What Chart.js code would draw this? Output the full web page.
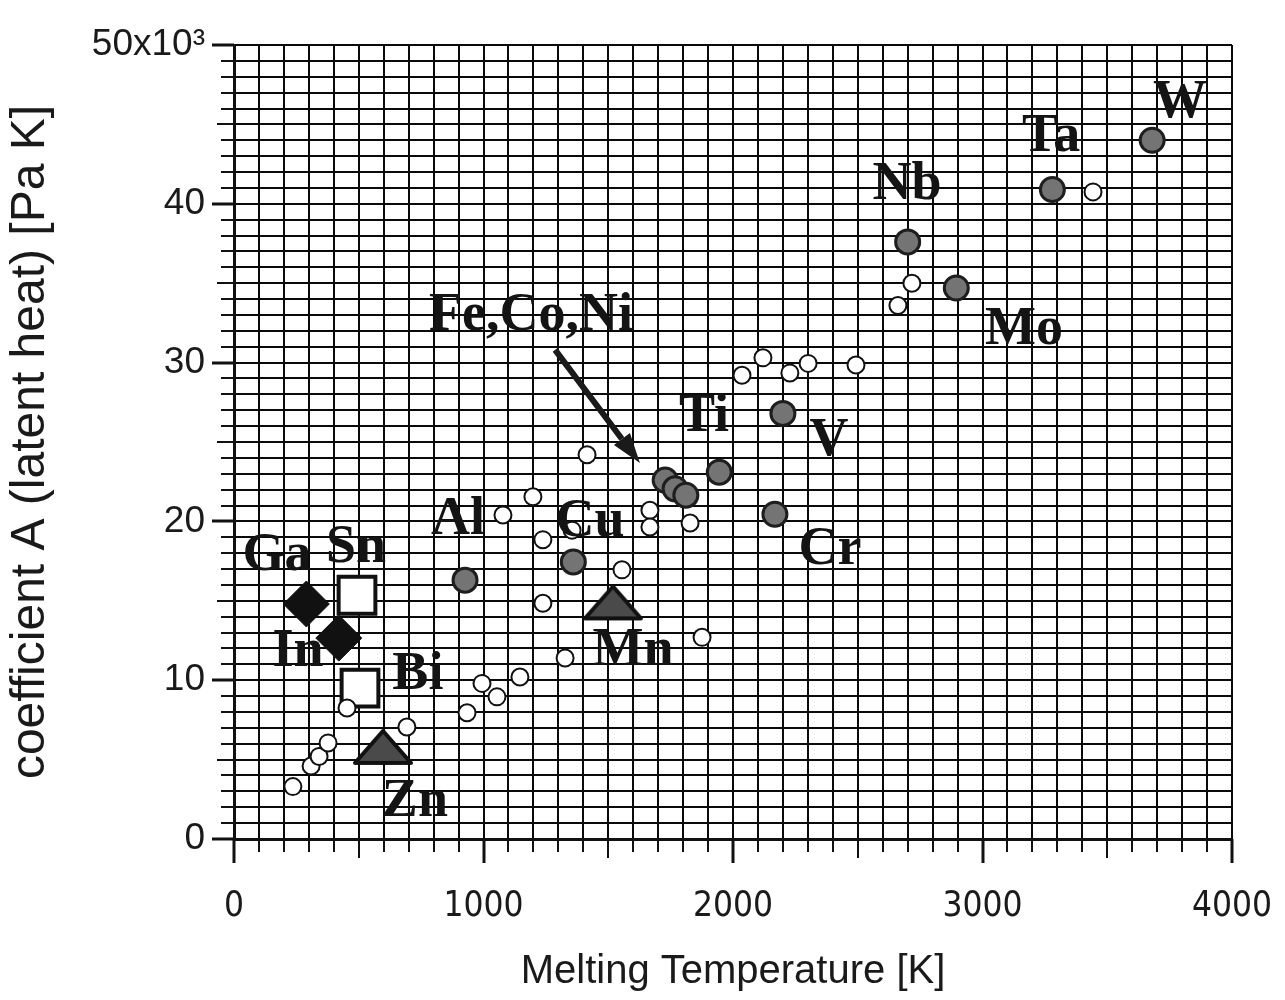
<!DOCTYPE html>
<html><head><meta charset="utf-8">
<script src="https://cdn.jsdelivr.net/npm/chart.js@4"></script>
<style>html,body{margin:0;padding:0;background:#fff}</style>
</head><body>
<canvas id="c" width="1285" height="1000"></canvas>
<script>
// ---- data (melting temperature [K], coefficient A [Pa K]) ----
const otherTm = [236, 309, 341, 377, 453, 693, 934, 994, 1054, 1146, 1327, 1238, 1555, 1238, 1198, 1078, 1415, 1667, 1667, 1828, 1876, 2036, 2120, 2228, 2301, 2493, 2661, 2717, 3443, 1355];
const otherA  = [3300, 4600, 5200, 6050, 8250, 7050, 7950, 9800, 8950, 10200, 11400, 14850, 16950, 18850, 21550, 20400, 24200, 20700, 19650, 19900, 12700, 29200, 30300, 29350, 29950, 29850, 33600, 35000, 40750, 19450];

const metalTm = [3680, 3280, 2700, 2895, 2200, 1945, 2168, 1728, 1768, 1811, 1360, 926];
const metalA  = [44000, 40900, 37600, 34700, 26800, 23100, 20450, 22600, 22050, 21650, 17450, 16300];

const diamondTm = [290, 420];        // Ga, In
const diamondA  = [14800, 12650];
const squareTm  = [493, 505];        // Sn, Bi
const squareA   = [15350, 9500];
const triangleTm = [597, 1519];      // Zn, Mn
const triangleA  = [5800, 14900];

const labelText = ['W', 'Ta', 'Nb', 'Mo', 'V', 'Ti', 'Cr', 'Fe,Co,Ni', 'Cu', 'Al', 'Ga', 'Sn', 'In', 'Bi', 'Zn', 'Mn'];
const labelTm   = [3792, 3275, 2697, 3166, 2385, 1884, 2389, 1190, 1427, 898, 172, 489, 257, 737, 725, 1599];
const labelA    = [46350, 44200, 41180, 32050, 25060, 26570, 18200, 32930, 19960, 20090, 17820, 18320, 11780, 10330, 2330, 11840];

const arrowFrom = [1287, 30800];
const arrowTo   = [1627, 23680];

const xTicks = [0, 1000, 2000, 3000, 4000];
const yTicks = [0, 10000, 20000, 30000, 40000, 50000];

const pts = (xs, ys) => xs.map((v, i) => ({x: v, y: ys[i]}));

// flat triangle marker image
function triangleImg() {
  const c = document.createElement('canvas');
  c.width = 62; c.height = 38;
  const g = c.getContext('2d');
  g.beginPath();
  g.moveTo(31, 3); g.lineTo(59, 35); g.lineTo(3, 35); g.closePath();
  g.fillStyle = '#4a4a4a'; g.fill();
  g.lineWidth = 4; g.lineJoin = 'round'; g.strokeStyle = '#111'; g.stroke();
  return c;
}

const decor = {
  id: 'decor',
  afterDatasetsDraw(chart) {
    const {ctx, scales: {x, y}} = chart;
    ctx.save();
    // arrow
    const x0 = x.getPixelForValue(arrowFrom[0]), y0 = y.getPixelForValue(arrowFrom[1]);
    const x1 = x.getPixelForValue(arrowTo[0]), y1 = y.getPixelForValue(arrowTo[1]);
    const ang = Math.atan2(y1 - y0, x1 - x0);
    const head = 30, hw = 10;
    const bx = x1 - head * Math.cos(ang), by = y1 - head * Math.sin(ang);
    ctx.strokeStyle = '#1a1a1a'; ctx.lineWidth = 6;
    ctx.beginPath(); ctx.moveTo(x0, y0); ctx.lineTo(bx, by); ctx.stroke();
    ctx.fillStyle = '#1a1a1a';
    ctx.beginPath();
    ctx.moveTo(x1, y1);
    ctx.lineTo(bx + hw * Math.sin(ang), by - hw * Math.cos(ang));
    ctx.lineTo(bx - hw * Math.sin(ang), by + hw * Math.cos(ang));
    ctx.closePath(); ctx.fill();
    // element labels
    ctx.font = 'bold 54px "Liberation Serif", "Times New Roman", serif';
    ctx.textAlign = 'center'; ctx.textBaseline = 'middle';
    ctx.fillStyle = '#141414';
    labelText.forEach((t, i) => {
      ctx.fillText(t, x.getPixelForValue(labelTm[i]), y.getPixelForValue(labelA[i]));
    });
    ctx.restore();
  },
  afterDraw(chart) {
    const {ctx, scales: {x, y}, chartArea} = chart;
    ctx.save();
    ctx.strokeStyle = '#111'; ctx.lineWidth = 2;
    x.ticks.forEach(t => {
      const px = Math.round(x.getPixelForValue(t.value));
      const len = t.value % 1000 === 0 ? 24 : (t.value % 500 === 0 ? 19 : 13);
      ctx.lineWidth = t.value % 1000 === 0 ? 3 : 2;
      ctx.beginPath(); ctx.moveTo(px, chartArea.bottom); ctx.lineTo(px, chartArea.bottom + len); ctx.stroke();
    });
    y.ticks.forEach(t => {
      const py = Math.round(y.getPixelForValue(t.value));
      const len = t.value % 10000 === 0 ? 22 : (t.value % 5000 === 0 ? 17 : 13);
      ctx.lineWidth = t.value % 10000 === 0 ? 3 : 2;
      ctx.beginPath(); ctx.moveTo(chartArea.left, py); ctx.lineTo(chartArea.left - len, py); ctx.stroke();
    });
    ctx.restore();
  }
};

new Chart(document.getElementById('c'), {
  type: 'scatter',
  data: {
    datasets: [
      {data: pts(otherTm, otherA), pointStyle: 'circle', pointRadius: 8.5, backgroundColor: '#ffffff', borderColor: '#111', borderWidth: 2},
      {data: pts(metalTm, metalA), pointStyle: 'circle', pointRadius: 12, backgroundColor: '#747474', borderColor: '#1e1e1e', borderWidth: 3},
      {data: pts(squareTm, squareA), pointStyle: 'rect', pointRadius: 26, backgroundColor: '#ffffff', borderColor: '#111', borderWidth: 4},
      {data: pts(diamondTm, diamondA), pointStyle: 'rectRot', pointRadius: 23, backgroundColor: '#111', borderColor: '#111', borderWidth: 1},
      {data: pts(triangleTm, triangleA), pointStyle: triangleImg(), pointRadius: 20}
    ]
  },
  options: {
    responsive: false,
    devicePixelRatio: 1,
    animation: false,
    events: [],
    layout: {padding: {top: 45, right: 53, left: 0, bottom: 0}},
    plugins: {legend: {display: false}, tooltip: {enabled: false}},
    scales: {
      x: {
        type: 'linear', min: 0, max: 4000, position: 'bottom',
        afterFit(s) { s.height = 161; s.paddingLeft = 0; s.paddingRight = 0; },
        ticks: {
          stepSize: 100, autoSkip: false, maxRotation: 0, padding: 47,
          color: '#1a1a1a',
          font: {family: '"Liberation Sans Narrow", "DejaVu Sans Condensed", sans-serif', size: 35},
          callback: v => xTicks.includes(v) ? String(v) : ''
        },
        grid: {color: '#0a0a0a', lineWidth: 2, drawTicks: false},
        border: {display: true, color: '#111', width: 3},
        title: {display: true, text: 'Melting Temperature [K]', color: '#1a1a1a',
          font: {family: '"Liberation Sans", Arial, sans-serif', size: 40}, padding: {top: 0, bottom: 4}}
      },
      y: {
        type: 'linear', min: 0, max: 50000,
        afterFit(s) { s.width = 234; s.paddingTop = 0; s.paddingBottom = 0; },
        ticks: {
          stepSize: 1000, autoSkip: false, padding: 29,
          color: '#1a1a1a',
          font: {family: '"Liberation Sans", Arial, sans-serif', size: 37},
          callback: v => yTicks.includes(v) ? (v === 50000 ? '50x10\u00B3' : String(v / 1000)) : ''
        },
        grid: {color: '#0a0a0a', lineWidth: 2, drawTicks: false},
        border: {display: true, color: '#111', width: 3},
        title: {display: true, text: 'coefficient A (latent heat) [Pa K]', color: '#1a1a1a',
          font: {family: '"Liberation Sans", Arial, sans-serif', size: 48}, padding: {top: 2, bottom: 0}}
      }
    }
  },
  plugins: [decor]
});
</script>
</body></html>
